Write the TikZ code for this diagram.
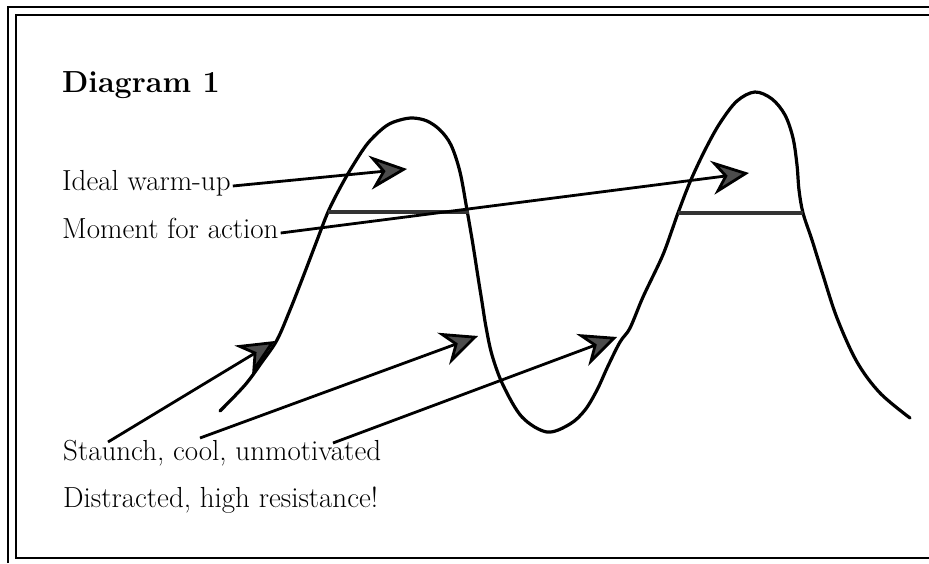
\documentclass[tikz,border=0pt]{standalone}
\usepackage{fontspec}
\usetikzlibrary{arrows.meta,positioning}

\begin{document}
\begin{tikzpicture}[x=1pt,y=-1pt,
  txt/.style={inner sep=2pt,anchor=base west,font=\fontsize{29}{32}\selectfont},
  hump/.style={line width=3.2pt,line join=round,line cap=round},
  pointer/.style={line width=2.8pt,-{Stealth[length=37pt,width=34pt,inset=12pt,fill=black!70]}},
  level/.style={line width=4.2pt,draw=black!80},
  frame/.style={line width=1.5pt}]
\useasboundingbox (0,0) rectangle (929,563);
% frame
\draw[frame] (8,563) -- (8,7) -- (929,7);
\draw[frame] (929,15) -- (16,15) -- (16,558) -- (929,558);
% labels
\node[txt,font=\bfseries\fontsize{30.5}{34}\selectfont] (title) at (60,92) {Diagram 1};
\node[txt] (ideal) at (60,190) {Ideal warm-up};
\node[txt] (moment) at ([yshift=-48pt]ideal.base west) {Moment for action};
\node[txt] (staunch) at (61,460) {Staunch, cool, unmotivated};
\node[txt] (distracted) at ([yshift=-47pt]staunch.base west) {Distracted, high resistance!};
% the two humps
\draw[hump] plot[smooth,tension=0.55] coordinates {
  (220,411) (245,385) (262,362) (277,340) (290,310) (303,277) (316,243)
  (328,212) (340,188) (352,167) (368,143) (386,126) (400,120) (413,118)
  (427,121) (440,130) (451,145) (460,172) (467,210) (473,245) (478,277)
  (482,302) (486,327) (492,355) (503,385) (522,417) (547,432) (570,424)
  (585,410) (597,390) (608,366) (620,342) (630,328) (643,297) (662,257)
  (672,230) (678,213) (690,182) (705,150) (720,123) (737,101) (755,92)
  (772,99) (785,115) (793,138) (797,165) (799,190) (803,213) (812,240)
  (822,272) (837,318) (857,362) (880,393) (910,418)};
% levels for action
\coordinate (levelOneL) at (328,212);
\coordinate (levelOneR) at (469,212);
\coordinate (levelTwoL) at (678,213);
\coordinate (levelTwoR) at (803,213);
\draw[level] (levelOneL) -- (levelOneR);
\draw[level] (levelTwoL) -- (levelTwoR);
% pointers
\coordinate (idealTip) at (407,169);
\coordinate (momentTip) at (749,173);
\coordinate (tailA) at (108,442);
\coordinate (tailB) at (200,438);
\coordinate (tailC) at (333,443);
\coordinate (tipA) at (275,341);
\coordinate (tipB) at (478,336);
\coordinate (tipC) at (617,337);
\draw[pointer] ([yshift=4pt]ideal.base east) -- (idealTip);
\draw[pointer] ([yshift=5pt]moment.base east) -- (momentTip);
\draw[pointer] (tailA) -- (tipA);
\draw[pointer] (tailB) -- (tipB);
\draw[pointer] (tailC) -- (tipC);
\end{tikzpicture}
\end{document}
